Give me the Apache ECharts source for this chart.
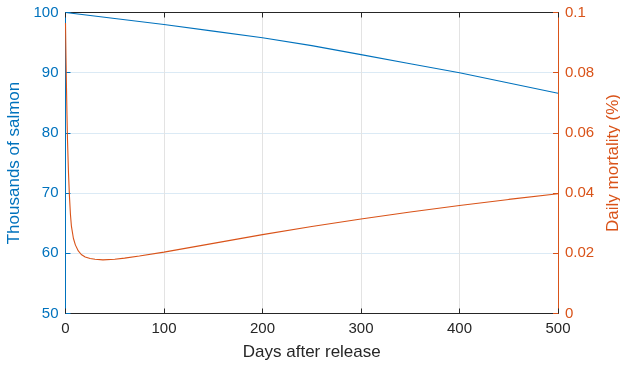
<!DOCTYPE html>
<html>
<head>
<meta charset="utf-8">
<script src="https://cdn.jsdelivr.net/npm/echarts@6/dist/echarts.min.js"></script>
<style>
  html, body { margin: 0; padding: 0; background: #fff; }
  #chart { width: 620px; height: 366px; }
</style>
</head>
<body>
<div id="chart"></div>
<script>
// Salmon population (thousands) after release
const popDays = [0, 50, 100, 150, 200, 250, 300, 350, 400, 450, 500];
const popThousands = [100, 99.0, 98.0, 96.9, 95.8, 94.5, 93.0, 91.5, 90.0, 88.3, 86.6];

// Daily mortality (%) after release
const mortDays = [0, 0.5, 1, 1.5, 2, 3, 4, 5, 6, 8, 10, 13, 16, 20, 25, 30, 38, 50, 60, 75, 100, 150, 200, 250, 300, 350, 400, 450, 500];
const mortPct = [0.0965, 0.085, 0.075, 0.066, 0.058, 0.047, 0.039, 0.033, 0.029, 0.025, 0.0228, 0.0208, 0.0196, 0.0188, 0.0183, 0.0180, 0.0178, 0.0180, 0.0184, 0.0191, 0.0204, 0.0233, 0.0262, 0.0289, 0.0314, 0.0337, 0.0359, 0.0379, 0.0398];

// Axis ticks
const xTicks = [0, 100, 200, 300, 400, 500];
const leftTicks = [50, 60, 70, 80, 90, 100];
const rightTicks = [0, 0.02, 0.04, 0.06, 0.08, 0.1];

const BLUE = '#0072BD';
const ORANGE = '#D95319';
const DARK = '#262626';
const FONT = 'Liberation Sans, Arial, Helvetica, sans-serif';

const zip = (xs, ys) => xs.map((x, i) => [x, ys[i]]);

const chart = echarts.init(document.getElementById('chart'), null, { renderer: 'canvas' });

chart.setOption({
  animation: false,
  backgroundColor: '#fff',
  grid: { left: 65.5, right: 62, top: 12.5, bottom: 52.5, containLabel: false, outerBoundsMode: 'none' },
  xAxis: [
    {
      type: 'value',
      position: 'bottom',
      min: xTicks[0], max: xTicks[xTicks.length - 1], interval: xTicks[1] - xTicks[0],
      name: 'Days after release',
      nameLocation: 'middle',
      nameGap: 30,
      nameTextStyle: { color: DARK, fontSize: 17, fontFamily: FONT },
      axisLine: { show: true, onZero: false, lineStyle: { color: DARK, width: 1 } },
      axisTick: { show: true, inside: true, length: 5, lineStyle: { color: DARK } },
      axisLabel: { color: DARK, fontSize: 15, fontFamily: FONT, margin: 8 },
      splitLine: { show: true, lineStyle: { color: '#e3e3e3', width: 1 } }
    },
    {
      type: 'value',
      position: 'top',
      min: xTicks[0], max: xTicks[xTicks.length - 1], interval: xTicks[1] - xTicks[0],
      axisLine: { show: true, onZero: false, lineStyle: { color: DARK, width: 1 } },
      axisTick: { show: true, inside: true, length: 5, lineStyle: { color: DARK } },
      axisLabel: { show: false },
      splitLine: { show: false }
    }
  ],
  yAxis: [
    {
      type: 'value',
      position: 'left',
      min: leftTicks[0], max: leftTicks[leftTicks.length - 1], interval: leftTicks[1] - leftTicks[0],
      name: 'Thousands of salmon',
      nameLocation: 'middle',
      nameGap: 38,
      nameRotate: 90,
      nameTextStyle: { color: BLUE, fontSize: 17, fontFamily: FONT },
      axisLine: { show: true, onZero: false, lineStyle: { color: BLUE, width: 1 } },
      axisTick: { show: true, inside: true, length: 5, lineStyle: { color: BLUE } },
      axisLabel: { color: BLUE, fontSize: 15, fontFamily: FONT, margin: 7 },
      splitLine: { show: true, lineStyle: { color: '#dbeaf5', width: 1 } }
    },
    {
      type: 'value',
      position: 'right',
      min: rightTicks[0], max: rightTicks[rightTicks.length - 1], interval: rightTicks[1] - rightTicks[0],
      name: 'Daily mortality (%)',
      nameLocation: 'middle',
      nameGap: 44,
      nameRotate: 90,
      nameTextStyle: { color: ORANGE, fontSize: 17, fontFamily: FONT },
      axisLine: { show: true, onZero: false, lineStyle: { color: ORANGE, width: 1 } },
      axisTick: { show: true, inside: true, length: 5, lineStyle: { color: ORANGE } },
      axisLabel: {
        color: ORANGE, fontSize: 15, fontFamily: FONT, margin: 7,
        formatter: v => String(parseFloat(v.toFixed(3)))
      },
      splitLine: { show: false }
    }
  ],
  series: [
    {
      name: 'Thousands of salmon',
      type: 'line',
      xAxisIndex: 0,
      yAxisIndex: 0,
      data: zip(popDays, popThousands),
      showSymbol: false,
      lineStyle: { color: BLUE, width: 1.1 },
      z: 3
    },
    {
      name: 'Daily mortality (%)',
      type: 'line',
      xAxisIndex: 0,
      yAxisIndex: 1,
      data: zip(mortDays, mortPct),
      showSymbol: false,
      lineStyle: { color: ORANGE, width: 1.1 },
      z: 3
    }
  ]
});
</script>
</body>
</html>
